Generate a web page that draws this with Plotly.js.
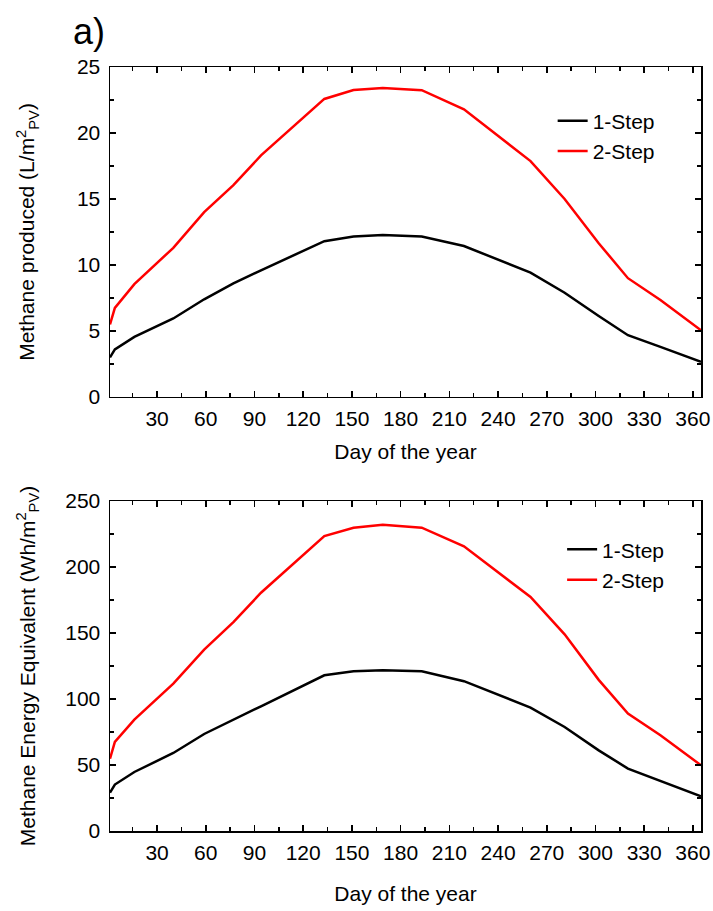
<!DOCTYPE html>
<html>
<head>
<meta charset="utf-8">
<script src="https://cdn.plot.ly/plotly-3.0.1.min.js"></script>
<style>html,body{margin:0;padding:0;background:#fff;}#chart{width:713px;height:911px;}</style>
</head>
<body>
<div id="chart"></div>
<script>
const days = [1, 4, 16, 40, 59, 77, 94, 133, 151, 169, 193, 219, 260, 281, 302, 320, 340, 365];
const methane1Step = [3.0, 3.6, 4.55, 5.95, 7.4, 8.6, 9.6, 11.8, 12.15, 12.28, 12.15, 11.44, 9.42, 7.9, 6.13, 4.68, 3.8, 2.66];
const methane2Step = [5.5, 6.75, 8.55, 11.3, 14.0, 16.05, 18.3, 22.58, 23.25, 23.4, 23.24, 21.8, 17.87, 15.0, 11.65, 9.0, 7.35, 5.06];
const energy1Step = [29, 35.2, 44.7, 59.1, 73.5, 84.5, 94.5, 118, 121, 121.7, 121, 113.5, 93.5, 78.8, 61.1, 47.3, 38, 26.3];
const energy2Step = [54.8, 67.5, 84.4, 111.7, 137.4, 158.3, 180.5, 223.5, 229.8, 232, 229.8, 215.7, 177.3, 149, 114.5, 88.9, 72.5, 49.8];
const seriesNames = ['1-Step', '2-Step'];
const xTitle = 'Day of the year';
const yTitleTop = 'Methane produced (L/m<sup>2</sup><sub>PV</sub>)';
const yTitleBottom = 'Methane Energy Equivalent (Wh/m<sup>2</sup><sub>PV</sub>)';
const panelLabel = 'a)';

const FONT = 'Arial, "Liberation Sans", sans-serif';
const FS = 21;
const lineW = 2.5;

const traces = [
  {x: days, y: methane1Step, name: seriesNames[0], mode: 'lines', line: {color: '#000000', width: lineW}, xaxis: 'x', yaxis: 'y', legend: 'legend'},
  {x: days, y: methane2Step, name: seriesNames[1], mode: 'lines', line: {color: '#ff0000', width: lineW}, xaxis: 'x', yaxis: 'y', legend: 'legend'},
  {x: days, y: energy1Step, name: seriesNames[0], mode: 'lines', line: {color: '#000000', width: lineW}, xaxis: 'x2', yaxis: 'y2', legend: 'legend2'},
  {x: days, y: energy2Step, name: seriesNames[1], mode: 'lines', line: {color: '#ff0000', width: lineW}, xaxis: 'x2', yaxis: 'y2', legend: 'legend2'}
];

function xAxis(anchor, standoff) {
  return {
    anchor: anchor, domain: [0, 1], range: [1, 365], tick0: 0, dtick: 30,
    ticks: 'inside', ticklen: 6, tickwidth: 1.5, tickcolor: '#000',
    minor: {dtick: 15, tick0: 0, ticks: 'inside', ticklen: 4, tickwidth: 1.5, tickcolor: '#000'},
    showline: true, linecolor: '#000', linewidth: 1.5, mirror: 'ticks',
    showgrid: false, zeroline: false,
    tickfont: {family: FONT, size: FS, color: '#000'},
    ticklabelstandoff: 2,
    title: {text: xTitle, font: {family: FONT, size: FS, color: '#000'}, standoff: standoff}
  };
}
function yAxis(anchor, domain, range, dtick, minorD, title, standoff) {
  return {
    anchor: anchor, domain: domain, range: range, tick0: 0, dtick: dtick,
    ticks: 'inside', ticklen: 6, tickwidth: 1.5, tickcolor: '#000',
    minor: {dtick: minorD, tick0: 0, ticks: 'inside', ticklen: 4, tickwidth: 1.5, tickcolor: '#000'},
    showline: true, linecolor: '#000', linewidth: 1.5, mirror: 'ticks',
    showgrid: false, zeroline: false,
    tickfont: {family: FONT, size: FS, color: '#000'},
    ticklabelstandoff: 4,
    title: {text: title, font: {family: FONT, size: FS, color: '#000'}, standoff: standoff}
  };
}

const layout = {
  width: 713, height: 911,
  margin: {l: 110, r: 12, t: 67, b: 80},
  paper_bgcolor: '#fff', plot_bgcolor: '#fff',
  font: {family: FONT, color: '#000'},
  xaxis: xAxis('y', 15),
  yaxis: yAxis('x', [0.5681, 1], [0, 25], 5, 2.5, yTitleTop, 36),
  xaxis2: xAxis('y2', 23),
  yaxis2: yAxis('x2', [0, 0.4319], [0, 250], 50, 25, yTitleBottom, 24),
  legend: {x: 0.749, y: 0.956, xanchor: 'left', yanchor: 'top', bgcolor: 'rgba(0,0,0,0)', font: {family: FONT, size: FS, color: '#000'}},
  legend2: {x: 0.765, y: 0.395, xanchor: 'left', yanchor: 'top', bgcolor: 'rgba(0,0,0,0)', font: {family: FONT, size: FS, color: '#000'}},
  showlegend: true,
  annotations: [
    {text: panelLabel, xref: 'paper', yref: 'paper', x: -0.066, y: 1.047, xanchor: 'left', yanchor: 'middle', showarrow: false, font: {family: FONT, size: 36, color: '#000'}}
  ]
};

Plotly.newPlot('chart', traces, layout, {displayModeBar: false, staticPlot: true});
</script>
</body>
</html>
